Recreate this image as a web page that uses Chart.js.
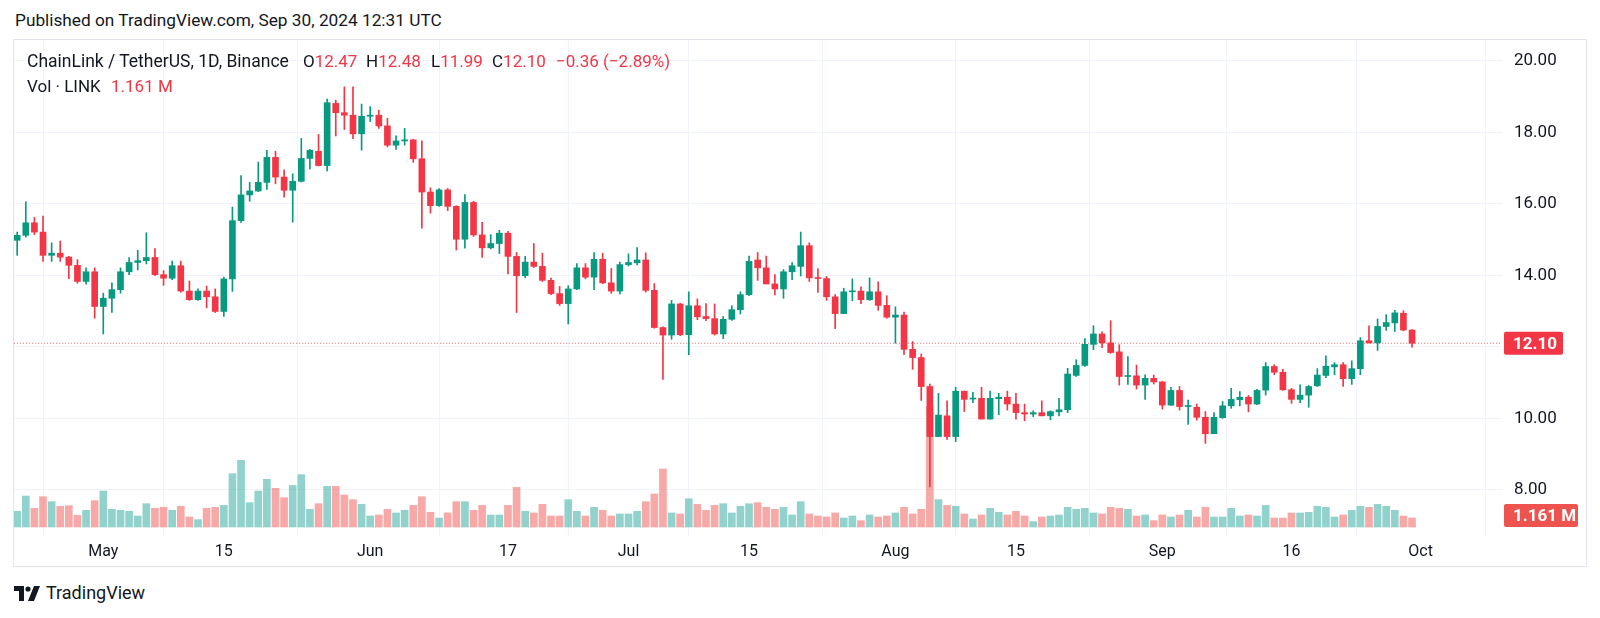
<!DOCTYPE html>
<html>
<head>
<meta charset="utf-8">
<script src="https://cdn.jsdelivr.net/npm/chart.js@4.4.1/dist/chart.umd.min.js"></script>
<style>
  html, body { margin: 0; padding: 0; background: #fff; }
  body { width: 1600px; height: 618px; position: relative; overflow: hidden;
         font-family: Roboto, "Open Sans", sans-serif; color: #131722; }
  .txt { position: absolute; white-space: pre; line-height: 1; font-size: 17px; }
  .red { color: #F23645; }
  #pane { position: absolute; left: 13px; top: 39px; width: 1574px; height: 528px;
          border: 1px solid #e0e3eb; box-sizing: border-box; }
  #wrap { position: absolute; left: 14px; top: 40px; width: 1572px; height: 526px; }
</style>
</head>
<body>
<div class="txt" style="left:15px; top:12px; font-size:17.25px;">Published on TradingView.com, Sep 30, 2024 12:31 UTC</div>
<div id="pane"></div>
<div id="wrap"><canvas id="chart" width="1572" height="526"></canvas></div>

<div class="txt" style="left:27px; top:53px; font-size:17.5px;">ChainLink / TetherUS, 1D, Binance</div>
<div class="txt" style="left:303px; top:53px;">O<span class="red">12.47</span></div>
<div class="txt" style="left:366px; top:53px;">H<span class="red">12.48</span></div>
<div class="txt" style="left:431px; top:53px;">L<span class="red">11.99</span></div>
<div class="txt" style="left:492px; top:53px;">C<span class="red">12.10</span></div>
<div class="txt red" style="left:556px; top:53px;">−0.36 (−2.89%)</div>
<div class="txt" style="left:27px; top:78px;">Vol · LINK</div>
<div class="txt red" style="left:111px; top:78px;">1.161 M</div>

<svg style="position:absolute; left:14px; top:586px;" width="27" height="15" viewBox="0 0 27 15">
  <path d="M0 0h10v15h-5v-10h-5z" fill="#131722"/>
  <circle cx="14" cy="3" r="2.6" fill="#131722"/>
  <path d="M20 0h6l-6 15h-6z" fill="#131722"/>
</svg>
<div class="txt" style="left:46px; top:584px; font-size:18px;">TradingView</div>

<script>
// daily candles, Apr 21 .. Sep 30 2024 (day 0 = May 1)
const firstDay = -10;

const opens = [
  14.98, 15.12, 15.47, 15.21, 14.56, 14.62, 14.51, 14.28, 13.83, 14.10,
  13.13, 13.36, 13.60, 14.10, 14.36, 14.41, 14.50, 14.02, 13.92, 14.27,
  13.56, 13.32, 13.56, 13.40, 12.99, 13.90, 15.53, 16.25, 16.36, 16.60,
  17.30, 16.75, 16.38, 16.63, 17.27, 17.47, 17.07, 18.81, 18.55, 18.48, 17.96,
  18.45, 18.48, 18.18, 17.64, 17.76, 17.79, 17.26, 16.33, 15.95, 16.39,
  15.93, 15.01, 16.04, 15.13, 14.77, 14.89, 15.18, 14.53, 13.99, 14.37, 14.25,
  13.86, 13.49, 13.21, 13.62, 14.21, 13.95, 14.45, 13.79, 13.56,
  14.30, 14.35, 14.43, 13.58, 12.54, 12.33, 13.20, 12.34, 13.15, 12.85, 12.79, 12.36,
  12.77, 13.04, 13.46, 14.43, 14.21, 13.76, 13.62, 14.10, 14.25, 14.83,
  13.93, 13.91, 13.40, 12.93, 13.54, 13.56, 13.32, 13.54, 13.16,
  12.83, 12.89, 11.93, 11.70, 10.89, 9.49, 10.07, 9.49, 10.76, 10.54,
  10.56, 9.98, 10.55, 10.59, 10.40, 10.16, 10.12, 10.16, 10.07, 10.18,
  10.24, 11.20, 11.48, 12.07, 12.36, 12.11, 11.86, 11.17, 11.19, 10.93, 11.12,
  11.02, 10.37, 10.78, 10.33, 10.31, 10.03, 9.57, 10.02, 10.35, 10.52,
  10.59, 10.40, 10.79, 11.45, 11.29, 10.80, 10.53, 10.65, 10.91, 11.20,
  11.44, 11.50, 11.11, 11.39, 12.17, 12.11, 12.57, 12.67, 12.94, 12.47
];
const highs = [
  15.21, 16.06, 15.62, 15.66, 14.91, 14.96, 14.53, 14.44, 14.21, 14.21,
  13.50, 13.79, 14.21, 14.50, 14.70, 15.19, 14.75, 14.13, 14.40, 14.40,
  13.84, 13.62, 13.70, 13.62, 13.95, 15.91, 16.79, 16.60, 17.17, 17.50,
  17.47, 16.95, 16.84, 17.83, 17.52, 17.94, 18.93, 18.90, 19.27, 19.27, 18.79,
  18.72, 18.62, 18.39, 17.90, 18.11, 17.80, 17.76, 16.45, 16.43, 16.43,
  15.95, 16.26, 16.07, 15.48, 15.14, 15.26, 15.23, 14.64, 14.53, 14.89, 14.62,
  13.92, 13.69, 13.71, 14.33, 14.33, 14.64, 14.62, 14.19, 14.37,
  14.60, 14.78, 14.63, 13.77, 12.56, 13.30, 13.22, 13.54, 13.34, 13.21, 13.20, 12.85,
  13.15, 13.54, 14.54, 14.64, 14.54, 14.02, 14.16, 14.36, 15.21, 14.91,
  14.19, 13.97, 13.46, 13.64, 13.90, 13.68, 13.93, 13.82, 13.43,
  13.12, 12.97, 12.15, 11.80, 10.96, 10.70, 10.49, 10.87, 10.76, 10.73,
  10.87, 10.76, 10.70, 10.76, 10.70, 10.40, 10.21, 10.49, 10.21, 10.56,
  11.40, 11.64, 12.23, 12.59, 12.42, 12.73, 12.06, 11.73, 11.49, 11.22, 11.21,
  11.03, 10.87, 10.89, 10.51, 10.40, 10.19, 10.16, 10.47, 10.84, 10.75,
  10.64, 10.81, 11.56, 11.50, 11.37, 10.84, 10.94, 10.92, 11.39, 11.75,
  11.56, 11.56, 11.61, 12.26, 12.59, 12.78, 12.90, 13.02, 13.01, 12.48
];
const lows = [
  14.56, 15.07, 15.14, 14.39, 14.39, 14.39, 13.91, 13.78, 13.75, 12.80,
  12.36, 12.96, 13.50, 14.02, 14.15, 14.32, 13.99, 13.72, 13.88, 13.53,
  13.30, 13.30, 13.09, 12.96, 12.85, 13.55, 15.48, 16.07, 16.34, 16.40,
  16.56, 16.19, 15.49, 16.61, 16.98, 17.06, 16.92, 17.90, 18.08, 17.82, 17.50,
  18.30, 18.11, 17.59, 17.52, 17.64, 17.16, 15.32, 15.74, 15.93, 15.81,
  14.71, 14.76, 15.09, 14.50, 14.74, 14.61, 14.04, 12.96, 13.93, 14.22, 13.83,
  13.46, 13.16, 12.64, 13.60, 13.90, 13.60, 13.77, 13.50, 13.48,
  14.26, 14.29, 13.53, 12.52, 11.09, 12.21, 12.31, 11.78, 12.76, 12.73, 12.33, 12.23,
  12.74, 12.92, 13.43, 13.86, 13.76, 13.45, 13.36, 13.88, 13.98, 13.83,
  13.52, 13.30, 12.51, 12.93, 13.29, 13.21, 13.30, 13.02, 12.80,
  12.10, 11.78, 11.37, 10.50, 8.08, 9.49, 9.41, 9.35, 10.19, 10.44,
  9.98, 9.98, 10.10, 10.23, 9.98, 9.93, 10.05, 10.07, 9.96, 10.07,
  10.16, 11.17, 11.45, 11.92, 11.98, 11.82, 10.93, 10.95, 10.82, 10.53, 10.96,
  10.26, 10.36, 10.23, 9.83, 9.95, 9.30, 9.57, 10.00, 10.28, 10.35,
  10.18, 10.38, 10.65, 11.22, 10.78, 10.42, 10.44, 10.31, 10.89, 11.14,
  11.22, 10.89, 10.95, 11.22, 12.11, 11.90, 12.46, 12.43, 12.45, 11.99
];
const closes = [
  15.12, 15.47, 15.21, 14.56, 14.62, 14.51, 14.28, 13.83, 14.10, 13.13,
  13.36, 13.60, 14.10, 14.36, 14.41, 14.50, 14.02, 13.92, 14.27, 13.56,
  13.32, 13.56, 13.40, 12.99, 13.90, 15.53, 16.25, 16.36, 16.60, 17.30,
  16.75, 16.38, 16.63, 17.27, 17.50, 17.07, 18.83, 18.55, 18.48, 17.96, 18.45,
  18.48, 18.18, 17.64, 17.76, 17.79, 17.26, 16.33, 15.95, 16.39, 15.93,
  15.01, 16.04, 15.13, 14.77, 14.89, 15.18, 14.53, 13.99, 14.37, 14.25, 13.86,
  13.49, 13.21, 13.62, 14.21, 13.95, 14.45, 13.79, 13.56, 14.30,
  14.36, 14.43, 13.58, 12.54, 12.33, 13.20, 12.34, 13.15, 12.84, 12.79, 12.36, 12.77,
  13.04, 13.46, 14.39, 14.21, 13.76, 13.62, 14.10, 14.27, 14.83, 13.93,
  13.91, 13.40, 12.93, 13.54, 13.56, 13.32, 13.54, 13.16, 12.83,
  12.89, 11.93, 11.70, 10.89, 9.49, 10.09, 9.49, 10.76, 10.53, 10.56,
  9.98, 10.56, 10.59, 10.40, 10.16, 10.12, 10.16, 10.07, 10.19, 10.24,
  11.24, 11.48, 12.07, 12.36, 12.11, 11.84, 11.17, 11.19, 10.93, 11.12, 11.02,
  10.37, 10.78, 10.33, 10.36, 10.03, 9.57, 10.03, 10.35, 10.53, 10.59,
  10.40, 10.78, 11.45, 11.29, 10.80, 10.53, 10.65, 10.89, 11.21, 11.46,
  11.50, 11.11, 11.39, 12.17, 12.11, 12.57, 12.68, 12.95, 12.47, 12.10
];
// volume, millions of LINK
const volumes = [
  2.02, 4.00, 2.41, 3.91, 3.27, 2.67, 2.75, 1.50, 2.15, 3.40,
  4.64, 2.28, 2.15, 2.02, 1.42, 3.01, 2.41, 2.54, 2.15, 2.67,
  1.29, 0.95, 2.41, 2.54, 2.79, 6.88, 8.60, 3.14, 4.64, 6.15,
  4.99, 3.78, 5.37, 6.75, 2.28, 3.01, 5.25, 5.25, 4.13, 3.53, 2.92,
  1.42, 1.55, 2.28, 1.81, 2.15, 2.79, 3.91, 1.89, 1.16, 1.81,
  3.27, 3.27, 2.15, 2.79, 1.55, 1.55, 2.79, 5.12, 2.02, 1.81, 2.92,
  1.42, 1.42, 3.53, 2.02, 1.42, 2.54, 2.15, 1.42, 1.68,
  1.68, 2.02, 3.27, 4.26, 7.48, 1.81, 1.68, 3.65, 2.92, 2.15, 2.79, 3.01,
  1.81, 2.67, 3.01, 3.14, 2.54, 2.28, 2.54, 1.55, 3.27, 1.68,
  1.42, 1.29, 1.81, 1.16, 1.42, 0.82, 1.55, 1.29, 1.42,
  1.81, 2.54, 1.68, 2.28, 15.56, 3.53, 2.79, 2.67, 1.68, 1.03,
  1.55, 2.41, 1.89, 1.55, 2.02, 1.42, 0.69, 1.29, 1.42, 1.55,
  2.54, 2.28, 2.41, 1.81, 1.68, 2.54, 2.41, 2.28, 1.42, 1.55, 0.82,
  1.55, 1.29, 1.55, 2.15, 1.29, 2.54, 1.29, 1.29, 2.41, 1.42,
  1.55, 1.42, 2.79, 1.16, 1.16, 1.81, 1.81, 1.89, 2.67, 2.54,
  1.29, 1.55, 2.15, 2.67, 2.54, 2.92, 2.67, 2.15, 1.42, 1.161
];

const tickDays = [0, 14, 31, 47, 61, 75, 92, 106, 123, 138, 153];
const tickLabels = ["May", "15", "Jun", "17", "Jul", "15", "Aug", "15", "Sep", "16", "Oct"];
const priceTicks = [8, 10, 12, 14, 16, 18, 20];

const UP = "#089981";
const DOWN = "#F23645";
const FONT = "Roboto, 'Open Sans', sans-serif";

const xMin = -10.37, xMax = 162.45;
const last = closes.length - 1;

const days = closes.map((c, i) => firstDay + i);
const isUp = closes.map((c, i) => c >= opens[i]);
const candleColors = isUp.map(u => u ? UP : DOWN);
const volumeColors = isUp.map(u => u ? "rgba(38,166,154,0.5)" : "rgba(239,83,80,0.5)");

// price / volume tags on the right axis
function drawTag(ctx, x, y, w, text, color) {
    ctx.save();
    ctx.fillStyle = color;
    ctx.beginPath();
    ctx.roundRect(x, y - 11.5, w, 23, 2);
    ctx.fill();
    ctx.fillStyle = "#fff";
    ctx.font = "bold 17px " + FONT;
    ctx.textBaseline = "middle";
    ctx.textAlign = "left";
    ctx.fillText(text, x + 9, y + 1);
    ctx.restore();
}

const tagPlugin = {
    id: "lastTags",
    afterDraw(chart) {
        const area = chart.chartArea;
        const yP = chart.scales.y.getPixelForValue(closes[last]);
        drawTag(chart.ctx, area.right + 2, yP, 59, closes[last].toFixed(2), DOWN);
        const volScale = chart.scales.yVol;
        const yV = Math.min(volScale.getPixelForValue(volumes[last]), volScale.getPixelForValue(0) - 11.5);
        drawTag(chart.ctx, area.right + 2, yV, 74, volumes[last].toFixed(3) + " M", "#ef5350");
    }
};

new Chart(document.getElementById("chart"), {
    type: "bar",
    data: {
        datasets: [
            {
                label: "Body",
                data: days.map((d, i) => ({ x: d, y: [opens[i], closes[i]] })),
                backgroundColor: candleColors,
                barThickness: 6,
                minBarLength: 1,
                grouped: false,
                order: 0,
                yAxisID: "y"
            },
            {
                label: "Wick",
                data: days.map((d, i) => ({ x: d, y: [lows[i], highs[i]] })),
                backgroundColor: candleColors,
                barThickness: 1,
                grouped: false,
                order: 1,
                yAxisID: "y"
            },
            {
                type: "line",
                label: "Last price",
                data: [{ x: xMin, y: closes[last] }, { x: xMax, y: closes[last] }],
                borderColor: "rgba(242,54,69,0.7)",
                borderWidth: 1,
                borderDash: [1, 2],
                pointRadius: 0,
                order: 2,
                yAxisID: "y"
            },
            {
                label: "Volume",
                data: days.map((d, i) => ({ x: d, y: volumes[i] })),
                backgroundColor: volumeColors,
                barThickness: 7,
                grouped: false,
                order: 3,
                yAxisID: "yVol"
            }
        ]
    },
    options: {
        responsive: false,
        animation: false,
        layout: { padding: 0 },
        plugins: { legend: { display: false }, tooltip: { enabled: false } },
        scales: {
            x: {
                type: "linear",
                min: xMin,
                max: xMax,
                offset: false,
                grid: { color: "#f0f3fa", drawTicks: false },
                border: { display: false },
                ticks: {
                    autoSkip: false,
                    maxRotation: 0,
                    padding: 6,
                    color: "#131722",
                    font: { family: FONT, size: 16 },
                    callback: (v, i) => tickLabels[i]
                },
                afterBuildTicks: s => { s.ticks = tickDays.map(v => ({ value: v })); },
                afterFit: s => { s.height = 30; s.paddingLeft = 0; s.paddingRight = 0; }
            },
            y: {
                position: "right",
                min: 6.709,
                max: 20.583,
                grid: { color: "#f0f3fa", drawTicks: false },
                border: { display: false },
                ticks: {
                    padding: 12,
                    color: "#131722",
                    font: { family: FONT, size: 17 },
                    callback: v => v.toFixed(2)
                },
                afterBuildTicks: s => { s.ticks = priceTicks.map(v => ({ value: v })); },
                afterFit: s => { s.width = 84; s.paddingTop = 0; s.paddingBottom = 0; }
            },
            yVol: {
                display: false,
                position: "left",
                min: -1.161,
                max: 62.84
            }
        }
    },
    plugins: [tagPlugin]
});
</script>
</body>
</html>
